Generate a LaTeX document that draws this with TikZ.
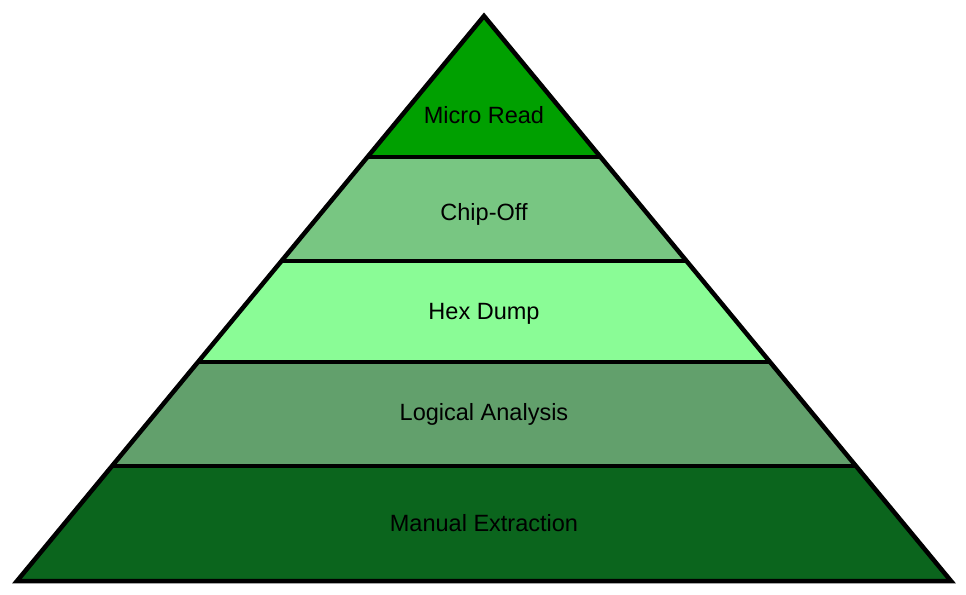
\documentclass[tikz,border=0pt]{standalone}
\usepackage{fontspec}
\setmainfont{Liberation Sans}
\usetikzlibrary{calc}
\definecolor{lvA}{RGB}{0,160,0}
\definecolor{lvB}{RGB}{120,198,130}
\definecolor{lvC}{RGB}{138,252,150}
\definecolor{lvD}{RGB}{98,160,108}
\definecolor{lvE}{RGB}{11,101,29}
\tikzset{
  edge/.style={draw=black, line width=4.5bp, line join=miter},
  lbl/.style={font=\fontsize{23.6}{28}\selectfont, text=black, inner sep=0pt, anchor=center}
}
\begin{document}
\begin{tikzpicture}[x=1bp,y=-1bp]
\useasboundingbox (0,0) rectangle (966,595);
\coordinate (A) at (484,16);
\coordinate (BL) at (17,581);
\coordinate (BR) at (951,581);
\coordinate (L1) at ($(A)!0.2496!(BL)$);
\coordinate (R1) at ($(A)!0.2496!(BR)$);
\coordinate (L2) at ($(A)!0.4336!(BL)$);
\coordinate (R2) at ($(A)!0.4336!(BR)$);
\coordinate (L3) at ($(A)!0.6124!(BL)$);
\coordinate (R3) at ($(A)!0.6124!(BR)$);
\coordinate (L4) at ($(A)!0.7965!(BL)$);
\coordinate (R4) at ($(A)!0.7965!(BR)$);
\fill[lvA] (A) -- (L1) -- (R1) -- cycle;
\fill[lvB] (L1) -- (L2) -- (R2) -- (R1) -- cycle;
\fill[lvC] (L2) -- (L3) -- (R3) -- (R2) -- cycle;
\fill[lvD] (L3) -- (L4) -- (R4) -- (R3) -- cycle;
\fill[lvE] (L4) -- (BL) -- (BR) -- (R4) -- cycle;
\draw[edge] (L1) -- (R1);
\draw[edge] (L2) -- (R2);
\draw[edge] (L3) -- (R3);
\draw[edge] (L4) -- (R4);
\draw[edge] (A) -- (BL) -- (BR) -- cycle;
\node[lbl] (t1) at (484,115) {Micro Read};
\node[lbl] (t2) at (484,214) {Chip-Off};
\node[lbl] (t3) at (484,314) {Hex Dump};
\node[lbl] (t4) at (484,414) {Logical Analysis};
\node[lbl] (t5) at (484,523) {Manual Extraction};
\end{tikzpicture}
\end{document}
